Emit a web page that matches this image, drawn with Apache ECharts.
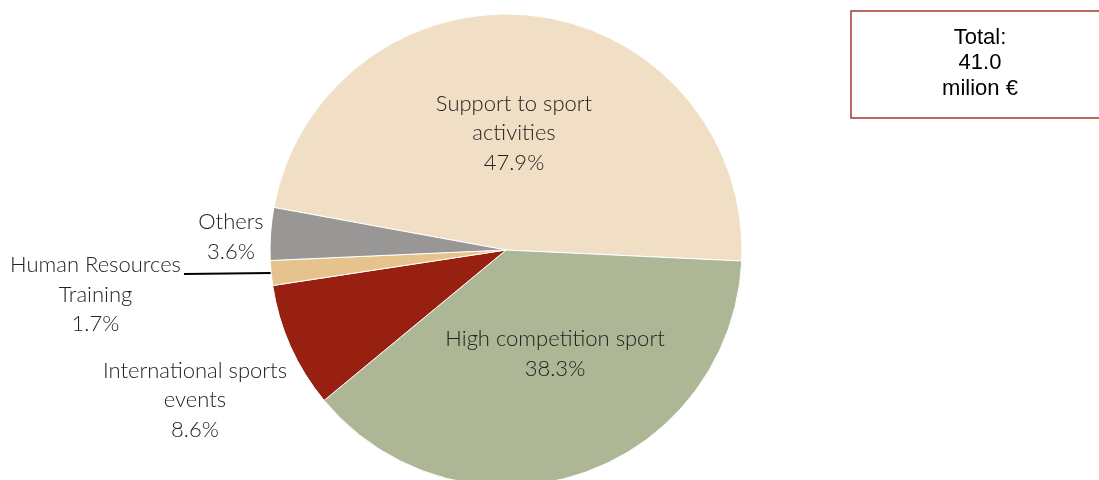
<!DOCTYPE html>
<html>
<head>
<meta charset="utf-8">
<script src="https://cdn.jsdelivr.net/npm/echarts@6/dist/echarts.min.js"></script>
<style>html,body{margin:0;padding:0;background:#fff;}#c{width:1099px;height:480px;}</style>
</head>
<body>
<div id="c"></div>
<script>
const categories = ['Support to sport\nactivities', 'High competition sport', 'International sports\nevents', 'Human Resources\nTraining', 'Others'];
const shares = [47.9, 38.3, 8.6, 1.7, 3.6];
const colors = ['#F0DFC5', '#ADB695', '#982010', '#E6C28C', '#999795'];
const totalText = ['Total:', '41.0', 'milion €'];

const labelPos = [[514, 133], [555, 354], [195, 400], [97, 274], [231, 237]];

const chart = echarts.init(document.getElementById('c'));
chart.setOption({
  animation: false,
  series: [{
    type: 'pie',
    center: [506, 250],
    radius: 236,
    startAngle: 169.6,
    clockwise: true,
    itemStyle: { borderColor: '#ffffff', borderWidth: 1 },
    label: {
      fontFamily: 'Lato',
      fontWeight: 300,
      fontSize: 22,
      lineHeight: 29.5,
      color: '#222',
      align: 'center',
      formatter: p => p.name + '\n' + p.value.toFixed(1) + '%'
    },
    labelLine: { show: false },
    labelLayout: function (p) {
      const pos = labelPos[p.dataIndex];
      return { x: pos[0], y: pos[1], align: 'center', verticalAlign: 'middle' };
    },
    data: categories.map((c, i) => {
      const d = { name: c, value: shares[i], itemStyle: { color: colors[i] } };
      d.label = { position: i >= 2 ? 'outside' : 'inside' };
      if (i === 3) {
        d.label.padding = [0, 3, 0, 0];
        d.label.formatter = p => '{sp| }\n' + p.name.split('\n').map(s => '{t|' + s + '}').join('\n') + '\n{t|' + p.value.toFixed(1) + '%}';
        d.label.rich = {
          sp: { fontSize: 4, lineHeight: 41 },
          t: { fontFamily: 'Lato', fontWeight: 300, fontSize: 22, lineHeight: 29.5, color: '#222' }
        };
        d.labelLine = { show: true, length: 10, length2: 0, smooth: false, lineStyle: { color: '#000', width: 2 } };
      }
      return d;
    })
  }],
  graphic: [{
    type: 'rect',
    shape: { x: 851, y: 11, width: 260, height: 107 },
    style: { fill: '#fff', stroke: '#A33A2A', lineWidth: 1.5 }
  }, {
    type: 'text',
    x: 980, y: 63,
    style: {
      text: totalText.join('\n'),
      font: '22px "Liberation Sans", Arial, sans-serif',
      lineHeight: 25.5,
      fill: '#000',
      align: 'center',
      verticalAlign: 'middle'
    }
  }]
});
</script>
</body>
</html>
